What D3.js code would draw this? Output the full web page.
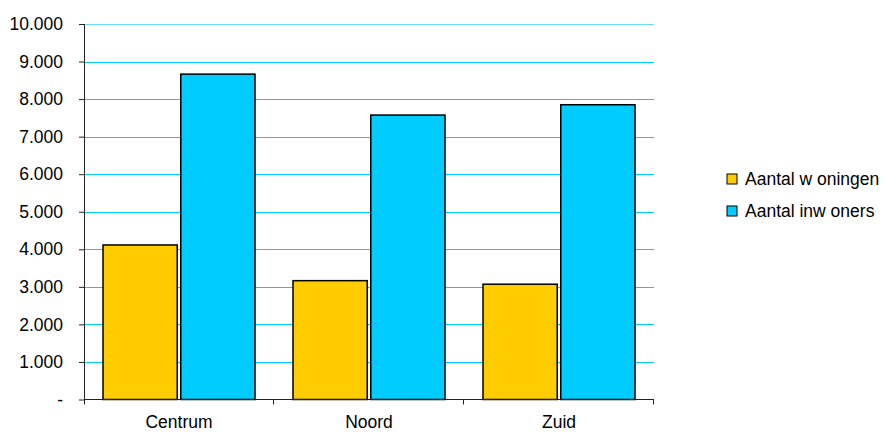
<!DOCTYPE html>
<html>
<head>
<meta charset="utf-8">
<script src="https://cdn.jsdelivr.net/npm/d3@7"></script>
<style>
  body { margin: 0; background: #fff; }
  text { font-family: "Liberation Sans", Arial, sans-serif; fill: #000; }
</style>
</head>
<body>
<div id="chart"></div>
<script>
// data
var categories = ["Centrum", "Noord", "Zuid"];
var seriesNames = ["Aantal w oningen", "Aantal inw oners"];
var woningen = [4115, 3165, 3070];
var inwoners = [8665, 7575, 7850];
var yTicks = [0, 1000, 2000, 3000, 4000, 5000, 6000, 7000, 8000, 9000, 10000];
var yTickLabels = ["-", "1.000", "2.000", "3.000", "4.000", "5.000", "6.000", "7.000", "8.000", "9.000", "10.000"];
var colors = ["#FFCC00", "#00CCFF"];

var svgWidth = 885, svgHeight = 432;
var margin = { top: 24, left: 84, right: 231, bottom: 32.5 };
var chartWidth = svgWidth - margin.left - margin.right;   // 570
var chartHeight = svgHeight - margin.top - margin.bottom; // 375.5

var svg = d3.select("#chart").append("svg")
  .attr("width", svgWidth)
  .attr("height", svgHeight);

var chartGroup = svg.append("g")
  .attr("transform", `translate(${margin.left}, ${margin.top})`);

var xScale = d3.scaleBand()
  .domain(categories)
  .range([0, chartWidth]);

var xInner = d3.scaleBand()
  .domain([0, 1])
  .range([19, xScale.bandwidth() - 19])
  .paddingInner(7 / 153);

var yScale = d3.scaleLinear()
  .domain([0, 10000])
  .range([chartHeight, 0]);

// gridlines
chartGroup.selectAll(".grid")
  .data(yTicks.filter(d => d > 0)).enter()
  .append("line")
  .attr("class", "grid")
  .attr("x1", 0).attr("x2", chartWidth)
  .attr("y1", d => Math.round(yScale(d)) + 0.5)
  .attr("y2", d => Math.round(yScale(d)) + 0.5)
  .style("stroke", d => d === 10000 ? "#66DDFF" : "#00CCFF")
  .style("stroke-width", 1);

// bars
var rows = categories.map((c, i) => ({ cat: c, values: [woningen[i], inwoners[i]] }));

var groups = chartGroup.selectAll(".cat")
  .data(rows).enter()
  .append("g")
  .attr("transform", d => `translate(${xScale(d.cat)}, 0)`);

groups.selectAll("rect")
  .data(d => d.values).enter()
  .append("rect")
  .attr("x", (d, i) => xInner(i))
  .attr("width", xInner.bandwidth())
  .attr("y", d => yScale(d))
  .attr("height", d => chartHeight - yScale(d))
  .style("fill", (d, i) => colors[i])
  .style("stroke", "#000")
  .style("stroke-width", 1.5);

// y axis
var leftAxis = d3.axisLeft(yScale)
  .tickValues(yTicks)
  .tickFormat((d, i) => yTickLabels[i])
  .tickSize(5)
  .tickPadding(16);

var yAxisG = chartGroup.append("g").call(leftAxis);
yAxisG.select(".domain").remove();
yAxisG.append("line")
  .attr("x1", 0.5).attr("x2", 0.5)
  .attr("y1", 0).attr("y2", chartHeight)
  .style("stroke", "#222");
yAxisG.selectAll(".tick line").style("stroke", "#222");
yAxisG.selectAll("text")
  .style("font-size", "17.5px")
  .style("font-family", "Liberation Sans, Arial, sans-serif")
  .style("fill", "#000");

// x axis
var bottomAxis = d3.axisBottom(xScale).tickSize(0).tickPadding(16);
var xAxisG = chartGroup.append("g")
  .attr("transform", `translate(0, ${chartHeight})`)
  .call(bottomAxis);
xAxisG.select(".domain").remove();
xAxisG.append("line")
  .attr("x1", 0).attr("x2", chartWidth)
  .attr("y1", 0).attr("y2", 0)
  .style("stroke", "#222");
xAxisG.selectAll(".sep")
  .data([0].concat(categories)).enter()
  .append("line")
  .attr("x1", (d, i) => i === 0 ? 0.5 : xScale(d) + xScale.bandwidth() - 0.5)
  .attr("x2", (d, i) => i === 0 ? 0.5 : xScale(d) + xScale.bandwidth() - 0.5)
  .attr("y1", 0).attr("y2", 5)
  .style("stroke", "#222");
xAxisG.selectAll("text")
  .style("font-size", "17.5px")
  .style("font-family", "Liberation Sans, Arial, sans-serif")
  .style("fill", "#000");

// legend
var legend = svg.append("g").attr("transform", "translate(727, 174)");
var items = legend.selectAll(".item")
  .data(seriesNames).enter()
  .append("g")
  .attr("transform", (d, i) => `translate(0, ${i * 32})`);
items.append("rect")
  .attr("width", 10).attr("height", 10)
  .style("fill", (d, i) => colors[i])
  .style("stroke", "#000")
  .style("stroke-width", 1);
items.append("text")
  .attr("x", 18).attr("y", 5)
  .attr("dy", "0.35em")
  .style("font-size", "17.5px")
  .text(d => d);
</script>
</body>
</html>
